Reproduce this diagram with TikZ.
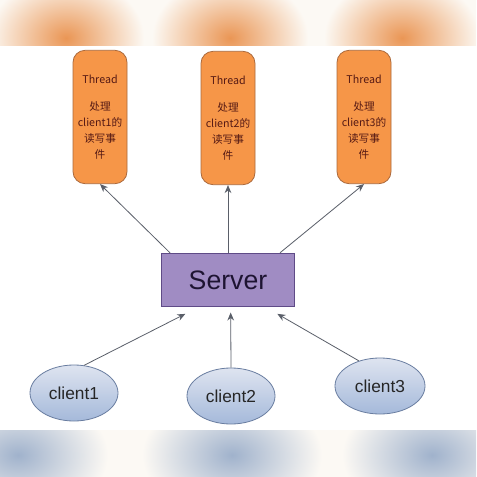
\documentclass[tikz,border=0pt]{standalone}
\usepackage{fontspec}
\setmainfont{Liberation Sans}
\newfontfamily\cjk{Noto Sans CJK SC}
\usetikzlibrary{arrows.meta, shapes.geometric, positioning}
\definecolor{threadfill}{RGB}{246,150,72}
\definecolor{threaddraw}{RGB}{170,105,60}
\definecolor{threadtext}{RGB}{85,25,20}
\definecolor{serverfill}{RGB}{160,140,195}
\definecolor{serverdraw}{RGB}{95,75,135}
\definecolor{servertext}{RGB}{30,20,50}
\definecolor{clienttop}{RGB}{222,228,240}
\definecolor{clientbot}{RGB}{165,185,218}
\definecolor{clientdraw}{RGB}{105,125,160}
\definecolor{arrowgray}{RGB}{90,95,105}
\definecolor{bandorange}{RGB}{234,150,85}
\definecolor{bandblue}{RGB}{160,178,204}
\definecolor{bandpaper}{RGB}{252,249,244}
\tikzset{
  thread/.style={
    rectangle, rounded corners=9pt, minimum width=40.5pt, minimum height=100pt,
    inner sep=0pt, align=center, draw=threaddraw, line width=0.6pt, fill=threadfill,
    text=threadtext, font=\cjk\fontsize{8}{12}\selectfont
  },
  server/.style={
    rectangle, minimum width=100pt, minimum height=40pt,
    draw=serverdraw, line width=0.8pt, fill=serverfill,
    text=servertext, font=\fontsize{20}{24}\selectfont
  },
  client/.style={
    ellipse, minimum width=66pt, minimum height=42pt, inner sep=0pt,
    draw=clientdraw, line width=0.6pt, top color=clienttop, bottom color=clientbot,
    text=black!85, font=\fontsize{13}{15}\selectfont
  },
  arrow/.style={
    -{Stealth[length=6pt,width=5pt]}, line width=0.6pt, color=arrowgray
  }
}

\begin{document}
\begin{tikzpicture}[x=0.75pt, y=-0.75pt]
  \useasboundingbox (0,0) rectangle (476,477);
  \fill[white] (0,0) rectangle (476,477);

  % Blurred bands
  \begin{scope}
    \clip (0,0) rectangle (476,46);
    \fill[bandpaper] (0,0) rectangle (476,46);
    \foreach \bx in {66,230,402}
      \shade[inner color=bandorange, outer color=bandpaper] (\bx,38) ellipse (78 and 62);
  \end{scope}
  \begin{scope}
    \clip (0,430) rectangle (476,477);
    \fill[bandpaper] (0,430) rectangle (476,477);
    \foreach \bx in {18,232,432}
      \shade[inner color=bandblue, outer color=bandpaper] (\bx,455) ellipse (90 and 62);
  \end{scope}

  % Threads
  \node[thread] (t1) at (100,117) {Thread\\[8pt]处理\\client1的\\读写事\\件};
  \node[thread] (t2) at (228,118) {Thread\\[8pt]处理\\client2的\\读写事\\件};
  \node[thread] (t3) at (364,117) {Thread\\[8pt]处理\\client3的\\读写事\\件};

  % Server
  \node[server] (srv) at (228,280) {Server};

  % Clients
  \node[client] (c1) at (74,393) {client1};
  \node[client] (c2) at (231,396) {client2};
  \node[client, minimum width=67.5pt] (c3) at (380,386) {client3};

  % Server to threads
  \draw[arrow] ([xshift=-43.5pt]srv.north) -- (t1.south);
  \draw[arrow] (srv.north) -- (t2.south);
  \draw[arrow] ([xshift=39pt]srv.north) -- (t3.south);

  % Clients to server
  \draw[arrow] (c1.70) -- ([xshift=-32pt, yshift=-5pt]srv.south);
  \draw[arrow] (c2.north) -- ([xshift=2pt, yshift=-4pt]srv.south);
  \draw[arrow] (c3.130) -- ([xshift=37pt, yshift=-5pt]srv.south);
\end{tikzpicture}
\end{document}
